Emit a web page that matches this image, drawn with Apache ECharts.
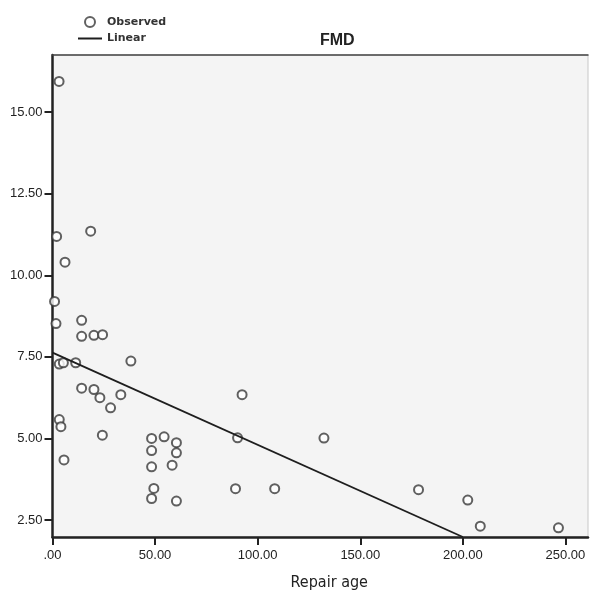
<!DOCTYPE html>
<html>
<head>
<meta charset="utf-8">
<style>
  html, body { margin: 0; padding: 0; background: #fff; }
  #chart { width: 593px; height: 598px; }
</style>
<script src="https://cdn.jsdelivr.net/npm/echarts@6/dist/echarts.min.js"></script>
</head>
<body>
<div id="chart"></div>
<script>
// observed points (Repair age, FMD)
const obsX = [3.2, 2.0, 18.6, 6.1, 1.0, 1.7, 14.2, 14.2, 20.2, 24.4,
  3.3, 5.3, 11.3, 38.2, 14.2, 20.2, 23.1, 33.3, 28.3, 3.3,
  4.1, 24.3, 5.6, 48.3, 54.4, 60.4, 48.3, 60.4, 48.3, 58.3,
  49.4, 48.3, 60.4, 92.4, 90.2, 132.3, 89.2, 108.3, 178.4, 202.4,
  208.5, 246.6]
const obsY = [15.94, 11.19, 11.35, 10.40, 9.20, 8.52, 8.62, 8.13, 8.16, 8.18,
  7.28, 7.32, 7.32, 7.37, 6.54, 6.50, 6.25, 6.34, 5.94, 5.58,
  5.36, 5.10, 4.34, 5.00, 5.05, 4.87, 4.63, 4.56, 4.13, 4.18,
  3.47, 3.16, 3.08, 6.34, 5.02, 5.01, 3.46, 3.46, 3.43, 3.11,
  2.31, 2.26]

// linear fit end points
const fitX = [0, 200]
const fitY = [7.63, 1.98]

const xTicks = [0, 50, 100, 150, 200, 250]
const yTicks = [2.5, 5, 7.5, 10, 12.5, 15]

const fmt = v => (v === 0 ? '.00' : v.toFixed(2))

const chart = echarts.init(document.getElementById('chart'))
chart.setOption({
  animation: false,
  backgroundColor: '#fff',
  title: {
    text: 'FMD',
    left: 315,
    top: 28,
    textStyle: { fontFamily: 'Liberation Sans', fontSize: 16, fontWeight: 'bold', color: '#222' }
  },
  legend: {
    orient: 'vertical',
    left: 73,
    top: 11,
    itemWidth: 24,
    itemHeight: 10,
    itemGap: 5,
    textStyle: { fontFamily: 'DejaVu Sans', fontSize: 11, fontWeight: 'bold', color: '#333' },
    data: [
      { name: 'Observed', icon: 'emptyCircle' },
      { name: 'Linear', icon: 'path://M0,0 L24,0 L24,2 L0,2 Z' }
    ]
  },
  grid: {
    left: 52.5,
    right: 5,
    top: 55,
    bottom: 61,
    show: true,
    backgroundColor: '#f4f4f4',
    borderColor: '#c8c8c8',
    borderWidth: 1
  },
  xAxis: [{
    type: 'value',
    min: 0,
    max: 261,
    name: 'Repair age',
    nameLocation: 'middle',
    nameGap: 38,
    nameTextStyle: { fontFamily: 'DejaVu Sans Condensed', fontSize: 16, color: '#222', padding: [0, 0, 0, 18] },
    axisLine: { lineStyle: { color: '#222', width: 2.5 } },
    axisTick: { customValues: xTicks, length: 8, lineStyle: { color: '#222', width: 2 } },
    axisLabel: { customValues: xTicks, formatter: fmt, margin: 12, fontFamily: 'Liberation Sans', fontSize: 13, color: '#222' },
    splitLine: { show: false }
  }, {
    type: 'value',
    position: 'top',
    min: 0,
    max: 261,
    axisLine: { lineStyle: { color: '#444', width: 1.5 } },
    axisTick: { show: false },
    axisLabel: { show: false },
    splitLine: { show: false }
  }],
  yAxis: {
    type: 'value',
    min: 1.98,
    max: 16.75,
    axisLine: { lineStyle: { color: '#222', width: 2.5 } },
    axisTick: { customValues: yTicks, length: 8, lineStyle: { color: '#222', width: 2 } },
    axisLabel: { customValues: yTicks, formatter: fmt, margin: 10, fontFamily: 'Liberation Sans', fontSize: 13, color: '#222' },
    splitLine: { show: false }
  },
  series: [
    {
      name: 'Observed',
      type: 'scatter',
      symbol: 'emptyCircle',
      symbolSize: 9,
      itemStyle: { color: '#3a3a3a', borderColor: '#3a3a3a', borderWidth: 1.8 },
      data: obsX.map((x, i) => [x, obsY[i]])
    },
    {
      name: 'Linear',
      type: 'line',
      symbol: 'none',
      lineStyle: { color: '#1e1e1e', width: 1.8 },
      itemStyle: { color: '#1e1e1e' },
      data: fitX.map((x, i) => [x, fitY[i]])
    }
  ]
})
</script>
</body>
</html>
